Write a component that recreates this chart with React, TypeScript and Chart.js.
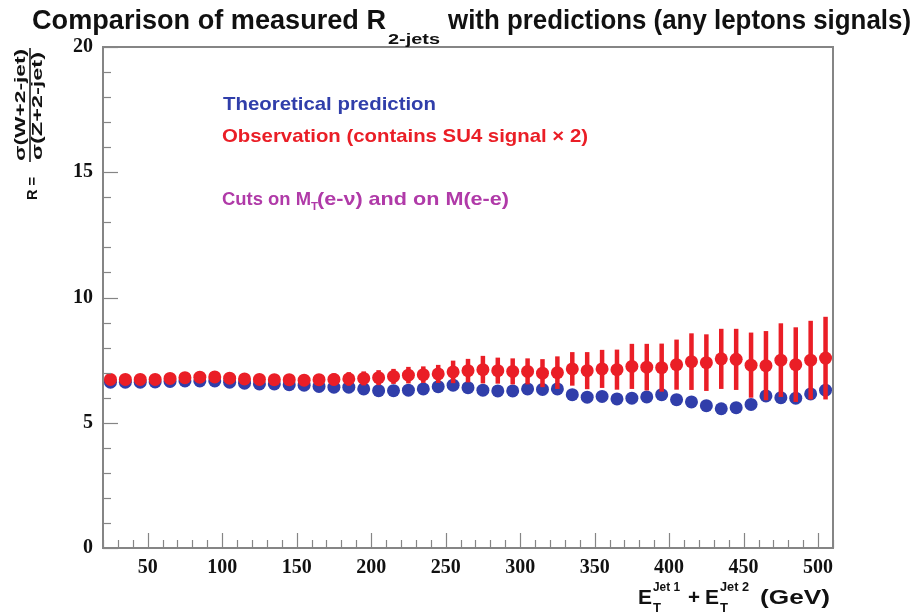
import React, { useEffect, useRef } from "react";
import { Chart, registerables } from "chart.js";

Chart.register(...registerables);

// ---- data ----
const binCenters = [
  25, 35, 45, 55, 65, 75, 85, 95, 105, 115, 125, 135, 145, 155, 165, 175, 185, 195, 205, 215,
  225, 235, 245, 255, 265, 275, 285, 295, 305, 315, 325, 335, 345, 355, 365, 375, 385, 395, 405, 415,
  425, 435, 445, 455, 465, 475, 485, 495, 505,
];
const theory = [
  6.62, 6.62, 6.62, 6.63, 6.65, 6.67, 6.67, 6.67, 6.62, 6.58, 6.55, 6.55, 6.52, 6.5, 6.45, 6.42, 6.42, 6.35, 6.28, 6.28,
  6.3, 6.35, 6.44, 6.5, 6.4, 6.3, 6.27, 6.27, 6.35, 6.33, 6.35, 6.12, 6.02, 6.05, 5.95, 5.98, 6.03, 6.12, 5.92, 5.83,
  5.68, 5.56, 5.6, 5.73, 6.07, 6.0, 5.98, 6.15, 6.3,
];
const observed = [
  6.73, 6.73, 6.73, 6.73, 6.77, 6.8, 6.82, 6.83, 6.78, 6.75, 6.73, 6.72, 6.72, 6.7, 6.72, 6.73, 6.75, 6.77, 6.8, 6.85,
  6.9, 6.92, 6.95, 7.03, 7.08, 7.12, 7.08, 7.05, 7.05, 6.98, 7.0, 7.15, 7.08, 7.15, 7.12, 7.25, 7.22, 7.2, 7.32, 7.44,
  7.4, 7.55, 7.53, 7.3, 7.28, 7.5, 7.32, 7.5, 7.58,
];
const observedErr = [
  0.1, 0.1, 0.1, 0.1, 0.12, 0.12, 0.13, 0.14, 0.15, 0.16, 0.17, 0.18, 0.19, 0.2, 0.22, 0.24, 0.27, 0.28, 0.3, 0.3,
  0.33, 0.33, 0.36, 0.45, 0.47, 0.55, 0.52, 0.52, 0.52, 0.56, 0.65, 0.67, 0.74, 0.76, 0.8, 0.9, 0.93, 0.96, 1.0, 1.13,
  1.13, 1.2, 1.22, 1.3, 1.38, 1.47, 1.49, 1.57, 1.65,
];
const xTickValues = [50, 100, 150, 200, 250, 300, 350, 400, 450, 500];
const yTickValues = [0, 5, 10, 15, 20];
const xMinorStep = 10;
const yMinorStep = 1;

const RED = "rgb(234,30,38)";
const BLUE = "rgb(48,62,170)";
const PURPLE = "rgb(176,58,168)";
const FRAME = "#858585";
const SANS = "'Liberation Sans', Arial, sans-serif";
const SERIF = "'Liberation Serif', 'Times New Roman', serif";

function fitText(ctx: CanvasRenderingContext2D, text: string, x: number, y: number, w: number, font: string, color: string) {
  ctx.save();
  ctx.font = font;
  ctx.fillStyle = color;
  ctx.textAlign = "left";
  ctx.textBaseline = "alphabetic";
  const m = ctx.measureText(text).width;
  ctx.translate(x, y);
  ctx.scale(w / m, 1);
  ctx.fillText(text, 0, 0);
  ctx.restore();
}

const framePlugin = {
  id: "rootFrame",
  afterDatasetsDraw(chart: any) {
    const { ctx, chartArea: a, scales } = chart;
    const xs = scales.x;
    const ys = scales.y;
    ctx.save();
    ctx.strokeStyle = FRAME;
    ctx.lineWidth = 1.2;
    // x ticks (inside, bottom)
    for (let v = 20; v <= 510; v += xMinorStep) {
      const px = Math.round(xs.getPixelForValue(v)) + 0.5;
      const major = v % 50 === 0;
      ctx.beginPath();
      ctx.moveTo(px, a.bottom);
      ctx.lineTo(px, a.bottom - (major ? 15 : 8));
      ctx.stroke();
    }
    // y ticks (inside, left)
    for (let v = 0; v <= 20; v += yMinorStep) {
      const py = Math.round(ys.getPixelForValue(v)) + 0.5;
      const major = v % 5 === 0;
      ctx.beginPath();
      ctx.moveTo(a.left, py);
      ctx.lineTo(a.left + (major ? 15 : 8), py);
      ctx.stroke();
    }
    ctx.lineWidth = 2;
    ctx.strokeRect(a.left, a.top, a.right - a.left, a.bottom - a.top);
    ctx.restore();
  },
};

const errorBarPlugin = {
  id: "errorBars",
  beforeDatasetDraw(chart: any, args: any) {
    if (args.index !== 0) return;
    const { ctx, scales } = chart;
    ctx.save();
    ctx.strokeStyle = RED;
    ctx.lineWidth = 4.5;
    binCenters.forEach((x, i) => {
      const px = scales.x.getPixelForValue(x);
      const y1 = scales.y.getPixelForValue(observed[i] + observedErr[i]);
      const y2 = scales.y.getPixelForValue(observed[i] - observedErr[i]);
      ctx.beginPath();
      ctx.moveTo(px, y1);
      ctx.lineTo(px, y2);
      ctx.stroke();
    });
    ctx.restore();
  },
};

const textPlugin = {
  id: "texts",
  afterDraw(chart: any) {
    const ctx: CanvasRenderingContext2D = chart.ctx;
    // Title
    fitText(ctx, "Comparison of measured R", 32, 29, 354, `bold 27px ${SANS}`, "#111");
    fitText(ctx, "2-jets", 388, 44, 52, `bold 15px ${SANS}`, "#111");
    fitText(ctx, "with predictions (any leptons signals)", 448, 29, 463, `bold 27px ${SANS}`, "#111");

    // Legend texts
    fitText(ctx, "Theoretical prediction", 223, 110, 213, `bold 19px ${SANS}`, BLUE);
    fitText(ctx, "Observation (contains SU4 signal \u00d7 2)", 222, 142, 366, `bold 19px ${SANS}`, RED);
    fitText(ctx, "Cuts on M", 222, 205, 89, `bold 19px ${SANS}`, PURPLE);
    fitText(ctx, "T", 311, 210, 7, `bold 11px ${SANS}`, PURPLE);
    fitText(ctx, "(e-\u03bd) and on M(e-e)", 317, 205, 192, `bold 19px ${SANS}`, PURPLE);

    // X axis title
    const xf = `bold 21px ${SANS}`;
    const sf = `bold 12px ${SANS}`;
    fitText(ctx, "E", 638, 604, 14, xf, "#111");
    fitText(ctx, "Jet 1", 653, 591, 27, sf, "#111");
    fitText(ctx, "T", 653, 612, 8, sf, "#111");
    fitText(ctx, "+", 688, 604, 12, xf, "#111");
    fitText(ctx, "E", 705, 604, 14, xf, "#111");
    fitText(ctx, "Jet 2", 720, 591, 29, sf, "#111");
    fitText(ctx, "T", 720, 612, 8, sf, "#111");
    fitText(ctx, "(GeV)", 760, 604, 70, xf, "#111");

    // Y axis title (rotated)
    const rot = (sx: number, sy: number, fn: () => void) => {
      ctx.save();
      ctx.translate(sx, sy);
      ctx.rotate(-Math.PI / 2);
      fn();
      ctx.restore();
    };
    rot(37, 200, () => fitText(ctx, "R =", 0, 0, 23, `bold 15px ${SANS}`, "#111"));
    rot(25, 161, () => fitText(ctx, "\u03c3(W+2-jet)", 0, 0, 112, `bold 14px ${SANS}`, "#111"));
    rot(42, 160, () => fitText(ctx, "\u03c3(Z+2-jet)", 0, 0, 108, `bold 14px ${SANS}`, "#111"));
    ctx.save();
    ctx.strokeStyle = "#111";
    ctx.lineWidth = 1.5;
    ctx.beginPath();
    ctx.moveTo(30, 162);
    ctx.lineTo(30, 48);
    ctx.stroke();
    ctx.restore();
  },
};

export default function App() {
  const ref = useRef<HTMLCanvasElement | null>(null);
  useEffect(() => {
    document.body.style.margin = "0";
    const canvas = ref.current!;
    const chart = new Chart(canvas, {
      type: "scatter",
      data: {
        datasets: [
          {
            label: "Observation",
            data: binCenters.map((x, i) => ({ x, y: observed[i] })),
            backgroundColor: RED,
            borderColor: RED,
            borderWidth: 0,
            pointRadius: 6.5,
            order: 0,
          },
          {
            label: "Theoretical prediction",
            data: binCenters.map((x, i) => ({ x, y: theory[i] })),
            backgroundColor: BLUE,
            borderColor: BLUE,
            borderWidth: 0,
            pointRadius: 6.5,
            order: 1,
          },
        ],
      },
      options: {
        animation: false,
        responsive: false,
        layout: { padding: { left: 0, top: 47, right: 84, bottom: 0 } },
        plugins: {
          legend: { display: false },
          tooltip: { enabled: false },
          title: { display: false },
        },
        scales: {
          x: {
            type: "linear",
            min: 20,
            max: 510,
            afterBuildTicks: (s: any) => {
              s.ticks = xTickValues.map((v) => ({ value: v }));
            },
            afterFit: (s: any) => {
              s.height = 65;
            },
            grid: { display: false, drawTicks: false },
            border: { display: false },
            ticks: {
              color: "#111",
              padding: 8,
              maxRotation: 0,
              autoSkip: false,
              font: { family: SERIF, weight: "bold", size: 20 },
            },
          },
          y: {
            type: "linear",
            min: 0,
            max: 20,
            afterBuildTicks: (s: any) => {
              s.ticks = yTickValues.map((v) => ({ value: v }));
            },
            afterFit: (s: any) => {
              s.width = 103;
            },
            grid: { display: false, drawTicks: false },
            border: { display: false },
            ticks: {
              color: "#111",
              padding: 10,
              font: { family: SERIF, weight: "bold", size: 20 },
            },
          },
        },
      },
      plugins: [framePlugin, errorBarPlugin, textPlugin],
    } as any);
    return () => chart.destroy();
  }, []);
  return (
    <div style={{ position: "absolute", left: 0, top: 0, width: 917, height: 613, background: "#fff" }}>
      <canvas ref={ref} width={917} height={613} style={{ display: "block" }} />
    </div>
  );
}
